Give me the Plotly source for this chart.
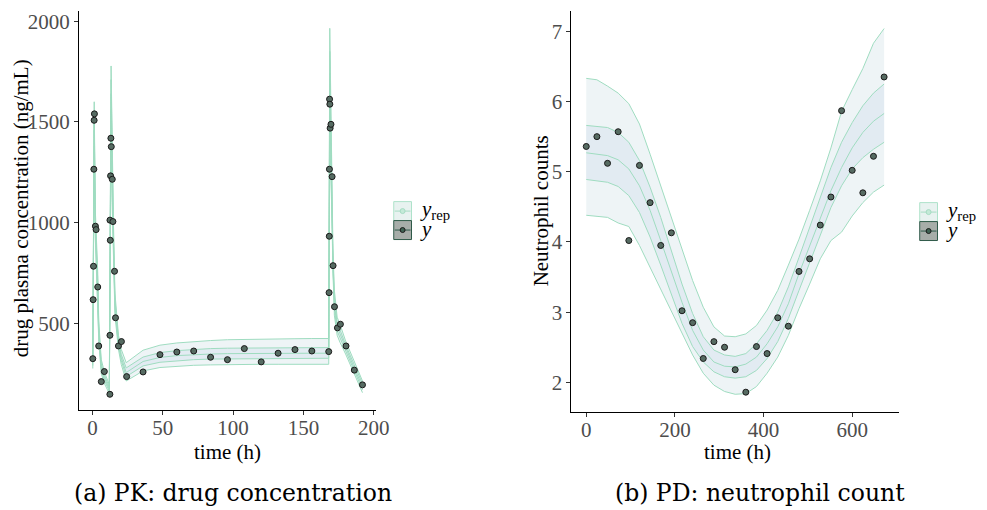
import plotly.graph_objects as go

# ---------------- PK panel data ----------------
pk_time = [0.25, 0.5, 0.75, 1.0, 1.2, 1.4, 2.1, 2.6, 3.75, 4.45, 6.3, 8.45,
           12.4, 12.45, 12.7, 12.45, 12.9, 13.1, 13.4, 14.1, 14.55, 15.7, 16.4, 18.5, 20.6, 24.3,
           36, 48, 60, 72, 84, 96, 108, 120, 132, 144, 156, 168,
           168.25, 168.4, 168.5, 168.6, 168.8, 169.0, 169.6, 170.4, 171.1, 172.1, 174.2, 176.3, 180.3, 186.2, 192]
pk_conc = [324, 617, 783, 1265, 1508, 1540, 982, 965, 680, 387, 210, 260,
           147, 440, 912, 1012, 1232, 1419, 1377, 1215, 1005, 758, 527, 387, 409, 235,
           258, 344, 357, 362, 331, 319, 374, 308, 351, 369, 362, 359,
           652, 932, 1265, 1613, 1588, 1469, 1488, 1228, 786, 582, 477, 495, 387, 267, 194]

pk_band_t = [0.25, 1.25, 2.0, 3.75, 4.5, 6.25, 8.5, 12.0,
             13.25, 14.0, 15.0, 16.0, 18.5, 20.5, 24.0,
             36, 48, 60, 72, 84, 96, 108, 120, 132, 144, 156, 168,
             168.75, 170, 171, 172, 174, 176, 180, 186, 192]
pk_q05 = [275, 1380, 930, 620, 410, 250, 200, 150,
          1450, 1100, 800, 540, 370, 295, 213,
          263, 280, 287, 291, 293, 295, 296, 296, 296, 296, 296, 296,
          1450, 1080, 700, 540, 440, 405, 347, 248, 155]
pk_q25 = [290, 1460, 970, 655, 435, 270, 215, 163,
          1560, 1170, 850, 570, 390, 315, 235,
          288, 306, 314, 319, 322, 323, 324, 325, 325, 326, 326, 326,
          1620, 1150, 745, 570, 462, 428, 362, 264, 170]
pk_q50 = [305, 1510, 1000, 685, 455, 285, 228, 173,
          1640, 1220, 890, 595, 405, 330, 255,
          310, 330, 339, 344, 347, 349, 350, 350, 351, 351, 351, 351,
          1740, 1200, 785, 600, 482, 448, 377, 280, 185]
pk_q75 = [320, 1555, 1030, 715, 480, 300, 242, 183,
          1710, 1270, 930, 620, 420, 345, 278,
          332, 354, 364, 370, 374, 376, 377, 378, 378, 379, 379, 379,
          1850, 1260, 825, 630, 502, 468, 393, 296, 200]
pk_q95 = [335, 1600, 1070, 755, 510, 320, 258, 195,
          1778, 1330, 980, 650, 440, 370, 304,
          366, 391, 402, 409, 414, 418, 420, 421, 422, 423, 424, 424,
          1965, 1330, 870, 665, 530, 495, 412, 313, 213]

# ---------------- PD panel data ----------------
pd_time = [0, 24, 48, 72, 96, 120, 144, 168, 192, 216, 240, 264, 288, 312, 336,
           360, 384, 408, 432, 456, 480, 504, 528, 552, 576, 600, 624, 648, 672]
pd_count = [5.36, 5.50, 5.12, 5.57, 4.02, 5.09, 4.56, 3.95, 4.13, 3.02, 2.85, 2.34, 2.58, 2.50, 2.18,
            1.86, 2.51, 2.41, 2.92, 2.80, 3.58, 3.76, 4.24, 4.64, 5.87, 5.02, 4.70, 5.22, 6.35]
pd_q95 = [6.33, 6.31, 6.22, 6.12, 5.97, 5.68, 5.25, 4.80, 4.35, 3.88, 3.45, 3.07, 2.79, 2.66, 2.65,
          2.69, 2.81, 3.03, 3.31, 3.67, 4.04, 4.45, 4.87, 5.34, 5.86, 6.17, 6.47, 6.83, 7.04]
pd_q75 = [5.66, 5.64, 5.63, 5.56, 5.42, 5.16, 4.78, 4.35, 3.88, 3.40, 2.98, 2.65, 2.46, 2.39, 2.37,
          2.41, 2.55, 2.74, 3.00, 3.36, 3.78, 4.21, 4.63, 5.06, 5.42, 5.70, 5.94, 6.12, 6.25]
pd_q50 = [5.27, 5.25, 5.23, 5.17, 5.04, 4.80, 4.45, 4.02, 3.57, 3.14, 2.74, 2.46, 2.29, 2.23, 2.22,
          2.26, 2.36, 2.55, 2.79, 3.12, 3.55, 3.95, 4.35, 4.73, 5.06, 5.34, 5.56, 5.72, 5.83]
pd_q25 = [4.89, 4.87, 4.85, 4.79, 4.66, 4.42, 4.07, 3.67, 3.24, 2.84, 2.51, 2.29, 2.15, 2.08, 2.06,
          2.08, 2.17, 2.34, 2.58, 2.91, 3.31, 3.71, 4.11, 4.49, 4.80, 5.04, 5.20, 5.32, 5.42]
pd_q05 = [4.38, 4.37, 4.35, 4.27, 4.22, 3.95, 3.64, 3.31, 3.00, 2.70, 2.39, 2.13, 1.96, 1.87, 1.83,
          1.84, 1.94, 2.13, 2.36, 2.67, 3.05, 3.40, 3.76, 4.02, 4.14, 4.37, 4.56, 4.71, 4.81]

pk_xticks = [0, 50, 100, 150, 200]
pk_yticks = [500, 1000, 1500, 2000]
pd_xticks = [0, 200, 400, 600]
pd_yticks = [2, 3, 4, 5, 6, 7]

# ---------------- styles ----------------
W, H = 987, 510
LINE_C = "#9fdcc0"
OUTER_F = "#eef4f6"
INNER_F = "#e2ebf2"
PT_FILL = "#566b62"
SERIF = "Liberation Serif"
CAP_FONT = "DejaVu Serif"


def px(x):
    return x / W


def py(y):
    return 1 - y / H


fig = go.Figure()


def add_panel(t, q05, q25, q50, q75, q95, ot, ov, xa, ya):
    common = dict(mode="lines", line=dict(color=LINE_C, width=1), showlegend=False,
                  hoverinfo="skip", xaxis=xa, yaxis=ya)
    fig.add_trace(go.Scatter(x=t, y=q05, **common))
    fig.add_trace(go.Scatter(x=t, y=q95, fill="tonexty", fillcolor=OUTER_F, **common))
    fig.add_trace(go.Scatter(x=t, y=q25, **common))
    fig.add_trace(go.Scatter(x=t, y=q75, fill="tonexty", fillcolor=INNER_F, **common))
    fig.add_trace(go.Scatter(x=t, y=q50, **common))
    fig.add_trace(go.Scatter(x=ot, y=ov, mode="markers", showlegend=False, xaxis=xa, yaxis=ya,
                             marker=dict(size=6, color=PT_FILL, line=dict(color="#1a1a1a", width=1))))


add_panel(pk_band_t, pk_q05, pk_q25, pk_q50, pk_q75, pk_q95, pk_time, pk_conc, "x", "y")
add_panel(pd_time, pd_q05, pd_q25, pd_q50, pd_q75, pd_q95, pd_time, pd_count, "x2", "y2")

axis_common = dict(showline=True, linecolor="black", linewidth=1, ticks="outside", ticklen=4,
                   tickcolor="#333333", tickwidth=1, showgrid=False, zeroline=False,
                   tickfont=dict(family=SERIF, size=21, color="#4d4d4d"))

fig.update_layout(
    width=W, height=H, margin=dict(l=0, r=0, t=0, b=0),
    paper_bgcolor="white", plot_bgcolor="white", showlegend=False,
    xaxis=dict(domain=[px(80), px(381)], range=[-9.6, 201.6], tickvals=pk_xticks, anchor="y",
               ticklabelstandoff=-5, **axis_common),
    yaxis=dict(domain=[py(410), py(10)], range=[68, 2051], tickvals=pk_yticks, anchor="x", **axis_common),
    xaxis2=dict(domain=[px(579), px(911)], range=[-33.6, 705.6], tickvals=pd_xticks, anchor="y2",
                ticklabelstandoff=-5, **axis_common),
    yaxis2=dict(domain=[py(412), py(10)], range=[1.575, 7.29], tickvals=pd_yticks, anchor="x2", **axis_common),
)

ann = []


def text(x, y, s, size=21, family=SERIF, angle=0, xanchor="center", color="black"):
    ann.append(dict(x=px(x), y=py(y), xref="paper", yref="paper", text=s, showarrow=False,
                    textangle=angle, xanchor=xanchor, yanchor="middle",
                    font=dict(family=family, size=size, color=color)))


text(21, 208, "drug plasma concentration (ng/mL)", angle=-90)
text(231, 452, "time (h)")
text(548, 210, "Neutrophil counts", angle=-90)
text(747, 452, "time (h)")
text(236, 493, "(a) PK: drug concentration", size=23.5, family=CAP_FONT)
text(770, 493, "(b) PD: neutrophil count", size=23.5, family=CAP_FONT)

shapes = []


def legend(x0, ytop):
    w, h = 18, 19
    # y_rep key
    shapes.append(dict(type="rect", xref="paper", yref="paper", x0=px(x0), x1=px(x0 + w),
                       y0=py(ytop + h), y1=py(ytop), fillcolor="#e8f2f0", line=dict(color="#aee2ca", width=1)))
    shapes.append(dict(type="line", xref="paper", yref="paper", x0=px(x0 + 1), x1=px(x0 + w - 1),
                       y0=py(ytop + h / 2), y1=py(ytop + h / 2), line=dict(color="#a6dcc3", width=1)))
    shapes.append(dict(type="circle", xref="paper", yref="paper", x0=px(x0 + w / 2 - 2.5), x1=px(x0 + w / 2 + 2.5),
                       y0=py(ytop + h / 2 + 2.5), y1=py(ytop + h / 2 - 2.5), fillcolor="#c4ead8",
                       line=dict(color="#a6dcc3", width=1)))
    # y key
    y2 = ytop + h
    shapes.append(dict(type="rect", xref="paper", yref="paper", x0=px(x0), x1=px(x0 + w),
                       y0=py(y2 + h), y1=py(y2), fillcolor="#a7ada9", line=dict(color="#2f5a49", width=1)))
    shapes.append(dict(type="line", xref="paper", yref="paper", x0=px(x0 + 1), x1=px(x0 + w - 1),
                       y0=py(y2 + h / 2), y1=py(y2 + h / 2), line=dict(color="#2f5a49", width=1)))
    shapes.append(dict(type="circle", xref="paper", yref="paper", x0=px(x0 + w / 2 - 2.5), x1=px(x0 + w / 2 + 2.5),
                       y0=py(y2 + h / 2 + 2.5), y1=py(y2 + h / 2 - 2.5), fillcolor="#3f6152",
                       line=dict(color="#1a1a1a", width=1)))
    text(x0 + w + 7, ytop + h / 2 - 1, "<i>y</i><sub>rep</sub>", size=21, xanchor="left")
    text(x0 + w + 7, y2 + h / 2 - 1, "<i>y</i>", size=21, xanchor="left")


legend(399, 201)
legend(932, 202)

fig.update_layout(annotations=ann, shapes=shapes)
fig.write_html("out.html", config={"displayModeBar": False},
               post_script="document.body.style.margin='0px';")
